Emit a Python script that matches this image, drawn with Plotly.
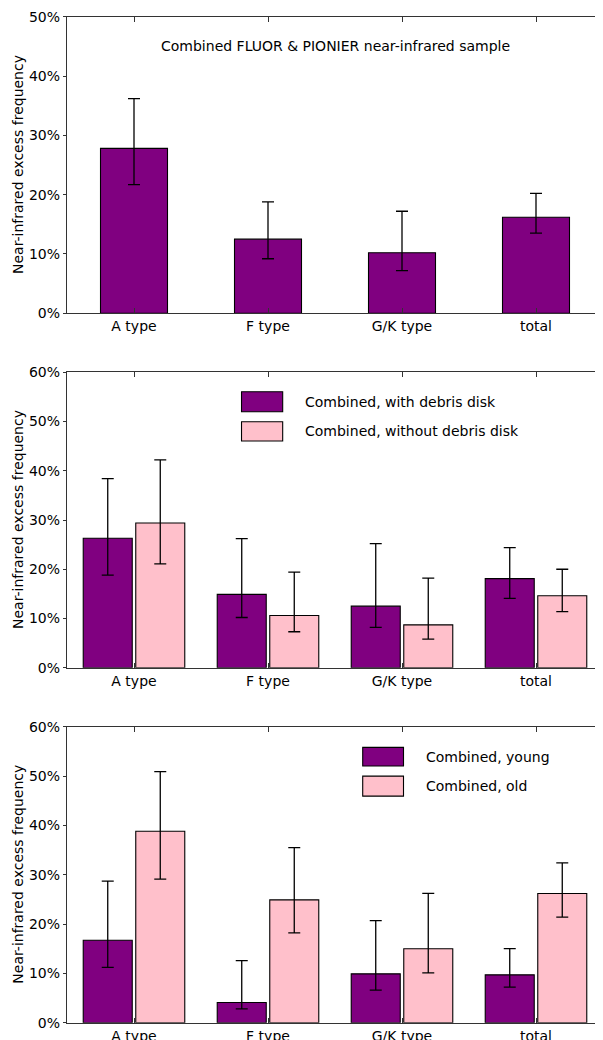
import plotly.graph_objects as go

categories = ["A type", "F type", "G/K type", "total"]

# Panel 1: combined sample
all_val = [27.8, 12.5, 10.2, 16.2]
all_lo = [21.7, 9.2, 7.2, 13.5]
all_hi = [36.2, 18.8, 17.2, 20.2]

# Panel 2: with / without debris disk
disk_val = [26.3, 14.9, 12.5, 18.1]
disk_lo = [18.8, 10.2, 8.2, 14.1]
disk_hi = [38.4, 26.2, 25.2, 24.4]
nodisk_val = [29.4, 10.6, 8.7, 14.6]
nodisk_lo = [21.1, 7.3, 5.8, 11.4]
nodisk_hi = [42.2, 19.4, 18.2, 20.0]

# Panel 3: young / old
young_val = [16.7, 4.1, 9.9, 9.7]
young_lo = [11.2, 2.8, 6.6, 7.2]
young_hi = [28.7, 12.6, 20.7, 15.0]
old_val = [38.8, 24.9, 15.0, 26.2]
old_lo = [29.1, 18.2, 10.1, 21.4]
old_hi = [50.9, 35.5, 26.2, 32.4]

ytick_top = [0, 10, 20, 30, 40, 50]
ytick_other = [0, 10, 20, 30, 40, 50, 60]

PURPLE = "#800080"
PINK = "#FFC0CB"
FONT = "DejaVu Sans"
AXC = "#333333"

# page has an 8px body margin; figure is sized to fit the window
OFF = 8
W, H = 603 - OFF, 1040 - OFF


def px_x(wx):
    return (wx - OFF) / W


def px_y(wy):
    return 1 - (wy - OFF) / H


def bar(vals, lo, hi, color, name, xa, ya, width=None):
    return go.Bar(
        x=categories, y=vals, name=name, xaxis=xa, yaxis=ya,
        marker=dict(color=color, line=dict(color="black", width=1.1)),
        width=width,
        error_y=dict(type="data", symmetric=False,
                     array=[h - v for h, v in zip(hi, vals)],
                     arrayminus=[v - l for v, l in zip(vals, lo)],
                     color="black", thickness=1.3, width=6),
        showlegend=False,
    )


fig = go.Figure()
fig.add_trace(bar(all_val, all_lo, all_hi, PURPLE, "Combined", "x", "y", width=0.5))
fig.add_trace(bar(disk_val, disk_lo, disk_hi, PURPLE, "Combined, with debris disk", "x2", "y2"))
fig.add_trace(bar(nodisk_val, nodisk_lo, nodisk_hi, PINK, "Combined, without debris disk", "x2", "y2"))
fig.add_trace(bar(young_val, young_lo, young_hi, PURPLE, "Combined, young", "x3", "y3"))
fig.add_trace(bar(old_val, old_lo, old_hi, PINK, "Combined, old", "x3", "y3"))

xdom = [px_x(67), 1.0]
ydoms = [[px_y(313.3), px_y(16.7)],
         [px_y(667.7), px_y(372.3)],
         [px_y(1022.7), px_y(726.7)]]
yranges = [[0, 50], [0, 60], [0, 60]]
yticks = [ytick_top, ytick_other, ytick_other]

layout = dict(
    width=W, height=H,
    margin=dict(l=0, r=0, t=0, b=0),
    paper_bgcolor="white", plot_bgcolor="white",
    font=dict(family=FONT, size=14, color="black"),
    barmode="group", bargap=0.216, bargroupgap=0.067,
    showlegend=False,
)

for i in range(3):
    sx = "" if i == 0 else str(i + 1)
    layout["xaxis" + sx] = dict(
        domain=xdom, anchor="y" + sx, type="category",
        range=[-0.5, 3.5], ticks="inside", ticklen=5, tickcolor=AXC,
        tickwidth=1, mirror="allticks", showline=True, linecolor=AXC,
        linewidth=1.3, showgrid=False, zeroline=False, automargin=False,
        tickfont=dict(family=FONT, size=14, color="black"),
    )
    layout["yaxis" + sx] = dict(
        domain=ydoms[i], anchor="x" + sx, range=yranges[i],
        tickvals=yticks[i], ticktext=[f"{t}%" for t in yticks[i]],
        ticks="outside", ticklen=3, tickcolor=AXC, tickwidth=1,
        mirror=True, showline=True, linecolor=AXC, linewidth=1.3,
        showgrid=False, zeroline=False, automargin=False,
        tickfont=dict(family=FONT, size=14, color="black"),
    )
    # right-hand inside ticks
    layout["yaxis" + str(i + 4)] = dict(
        overlaying="y" + sx, side="right", anchor="x" + sx, range=yranges[i],
        tickvals=yticks[i], ticks="inside", ticklen=4, tickcolor=AXC,
        showticklabels=False, showline=False, showgrid=False,
        zeroline=False, automargin=False,
    )

fig.update_layout(**layout)

# y-axis titles
for i in range(3):
    sx = "" if i == 0 else str(i + 1)
    fig.add_annotation(
        text="Near-infrared excess frequency", textangle=-90,
        xref="paper", x=px_x(18), xanchor="center",
        yref="y" + sx + " domain", y=0.5, yanchor="middle",
        showarrow=False, font=dict(family=FONT, size=14, color="black"),
    )

fig.add_annotation(
    text="Combined FLUOR & PIONIER near-infrared sample",
    xref="x domain", x=0.5, xanchor="center",
    yref="y domain", y=0.902, yanchor="middle",
    showarrow=False, font=dict(family=FONT, size=14, color="black"),
)

# legends drawn as boxes + labels
legends = [
    ("x2", "y2", 0.3256, 0.4024, 0.4397,
     [("Combined, with debris disk", PURPLE, 0.9343, 0.8666),
      ("Combined, without debris disk", PINK, 0.8328, 0.7674)]),
    ("x3", "y3", 0.5517, 0.6278, 0.6657,
     [("Combined, young", PURPLE, 0.9303, 0.8670),
      ("Combined, old", PINK, 0.8331, 0.7654)]),
]
for xa, ya, x0, x1, xt, items in legends:
    for label, color, y1, y0 in items:
        fig.add_shape(type="rect", xref=xa + " domain", yref=ya + " domain",
                      x0=x0, x1=x1, y0=y0, y1=y1, fillcolor=color,
                      line=dict(color="black", width=1.1))
        fig.add_annotation(text=label, xref=xa + " domain", x=xt, xanchor="left",
                           yref=ya + " domain", y=(y0 + y1) / 2, yanchor="middle",
                           showarrow=False,
                           font=dict(family=FONT, size=14, color="black"))

fig.write_html("out.html")
